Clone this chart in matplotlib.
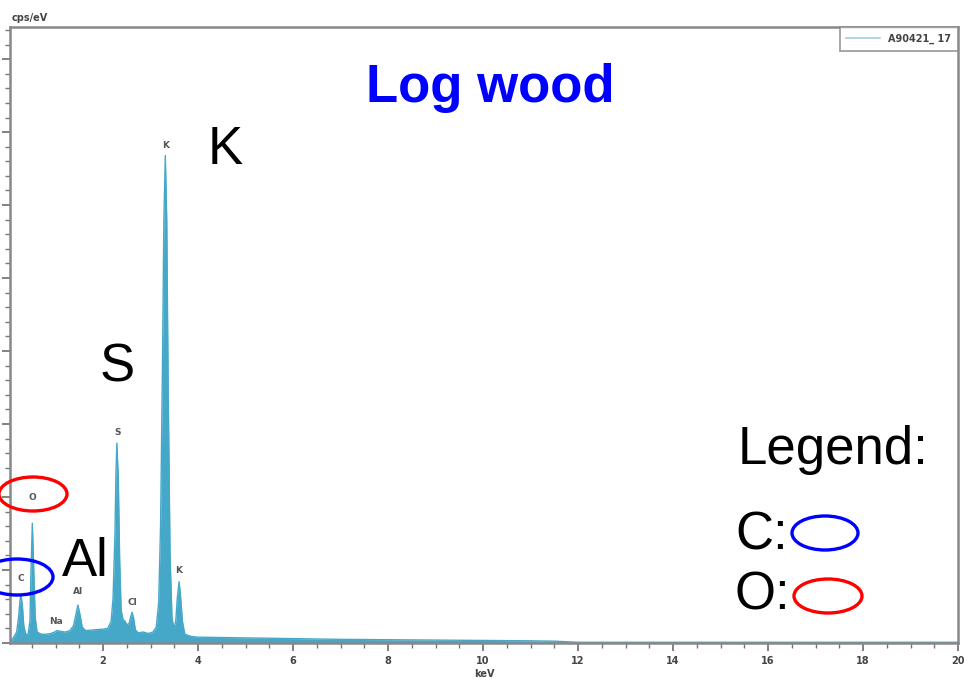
import matplotlib
matplotlib.use("Agg")
import matplotlib.pyplot as plt
from matplotlib.patches import Ellipse
from matplotlib.ticker import MultipleLocator

# EDX spectrum (keV, cps/eV)
energy = [0.04, 0.10, 0.18, 0.22, 0.25, 0.27, 0.30, 0.33, 0.37, 0.42, 0.46, 0.48,
          0.51, 0.54, 0.57, 0.61, 0.70, 0.80, 0.90, 0.98, 1.03, 1.10, 1.20, 1.30,
          1.38, 1.43, 1.47, 1.51, 1.56, 1.63, 1.80, 2.00, 2.10, 2.17, 2.21, 2.25,
          2.27, 2.29, 2.32, 2.35, 2.38, 2.42, 2.46, 2.50, 2.55, 2.58, 2.61, 2.64,
          2.68, 2.74, 2.85, 2.95, 3.05, 3.12, 3.17, 3.21, 3.25, 3.28, 3.31, 3.34,
          3.37, 3.41, 3.45, 3.49, 3.53, 3.56, 3.60, 3.63, 3.67, 3.72, 3.85, 4.0,
          5.0, 6.0, 7.0, 8.0, 9.0, 10.0, 11.0, 11.5, 12.0, 14.0, 20.0]
cps = [0.02, 0.06, 0.15, 0.35, 0.58, 0.66, 0.52, 0.24, 0.12, 0.12, 0.30, 0.95,
       1.64, 1.00, 0.35, 0.15, 0.12, 0.12, 0.13, 0.15, 0.17, 0.16, 0.15, 0.17,
       0.24, 0.40, 0.52, 0.40, 0.22, 0.17, 0.18, 0.19, 0.20, 0.30, 0.62, 1.50,
       2.30, 2.74, 2.25, 1.10, 0.45, 0.32, 0.30, 0.25, 0.27, 0.36, 0.42, 0.35,
       0.18, 0.14, 0.15, 0.13, 0.15, 0.22, 0.55, 1.60, 3.80, 5.80, 6.68, 5.80,
       3.50, 1.20, 0.35, 0.20, 0.30, 0.60, 0.84, 0.65, 0.30, 0.12, 0.09, 0.08,
       0.07, 0.06, 0.05, 0.045, 0.04, 0.035, 0.03, 0.025, 0.01, 0.01, 0.01]

# small element labels printed by the instrument software
peak_names = ["C", "O", "Na", "Al", "S", "Cl", "K", "K"]
peak_x = [0.27, 0.51, 1.00, 1.47, 2.30, 2.62, 3.31, 3.60]
peak_y = [0.89, 2.00, 0.29, 0.70, 2.88, 0.56, 6.82, 0.99]

W, H = 971, 685
fig = plt.figure(figsize=(W / 100, H / 100), dpi=100)
ax = fig.add_axes([10 / W, 1 - 643 / H, 948 / W, 616 / H])

spec_color = "#45a8c9"
ax.fill_between(energy, 0, cps, color=spec_color, lw=0)
ax.plot(energy, cps, color=spec_color, lw=1.0)
ax.plot([], [], color="#9fd0e0", lw=1.2, label="A90421_ 17")

ax.set_xlim(0.04, 20)
ax.set_ylim(0, 8.44)
ax.xaxis.set_major_locator(MultipleLocator(2))
ax.xaxis.set_minor_locator(MultipleLocator(0.5))
ax.yaxis.set_major_locator(MultipleLocator(1))
ax.yaxis.set_minor_locator(MultipleLocator(0.2))
ax.tick_params(axis="both", which="major", length=6, width=1.3, color="#777777",
               labelsize=7, labelcolor="#444444")
ax.tick_params(axis="both", which="minor", length=3.5, width=1.0, color="#777777")
ax.tick_params(axis="y", labelleft=False)
for sp in ax.spines.values():
    sp.set_color("#888888")
    sp.set_linewidth(1.8)
for lab in ax.get_xticklabels():
    lab.set_fontweight("bold")

ax.set_xlabel("keV", fontsize=7, color="#444444", fontweight="bold", labelpad=2)
fig.text(12 / W, 1 - 18 / H, "cps/eV", fontsize=7, color="#444444",
         fontweight="bold", va="center")

for name, x, y in zip(peak_names, peak_x, peak_y):
    ax.text(x, y, name, fontsize=6.5, color="#555555", fontweight="bold",
            ha="center", va="center")

leg = ax.legend(loc="upper right", fontsize=7, frameon=True, fancybox=False,
                borderaxespad=0, handlelength=3.5, borderpad=0.7)
leg.get_frame().set_edgecolor("#888888")
leg.get_frame().set_linewidth(1.3)
for t in leg.get_texts():
    t.set_fontweight("bold")
    t.set_color("#444444")

# slide annotations
big = dict(family="Liberation Sans", fontsize=38, color="black",
           ha="center", va="center")
fig.text(490 / W, 1 - 88 / H, "Log wood", family="Liberation Sans",
         fontsize=38, color="#0000ff", fontweight="bold", ha="center", va="center")
fig.text(225 / W, 1 - 150 / H, "K", **big)
fig.text(117 / W, 1 - 368 / H, "S", **big)
fig.text(85 / W, 1 - 562 / H, "Al", **big)
fig.text(833 / W, 1 - 450 / H, "Legend:", **big)
fig.text(762 / W, 1 - 536 / H, "C:", **big)
fig.text(762 / W, 1 - 596 / H, "O:", **big)

rings = [(825, 533, 66, 34, "#0000ff"), (828, 596, 68, 34, "#ff0000"),
         (33, 494, 68, 34, "#ff0000"), (17, 577, 72, 36, "#0000ff")]
for cx, cy, w, h, c in rings:
    fig.add_artist(Ellipse((cx / W, 1 - cy / H), w / W, h / H, fill=False,
                           edgecolor=c, lw=2.4, transform=fig.transFigure))

fig.savefig("out.png", dpi=100)
